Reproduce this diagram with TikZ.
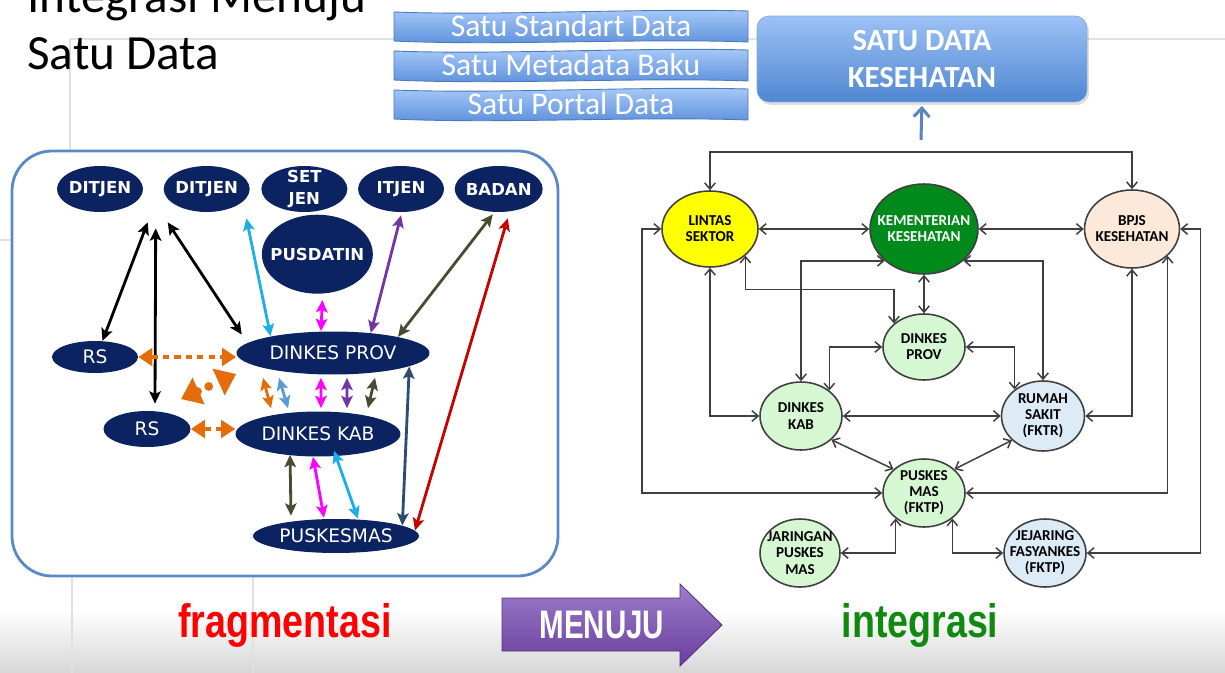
\documentclass[tikz,border=0pt]{standalone}
\usepackage{graphicx}
\usepackage{fontspec}
\setmainfont{Carlito}
\newfontfamily\dejavu{DejaVu Sans}
\newfontfamily\arialish{Liberation Sans}
\usetikzlibrary{positioning,shapes.geometric,arrows.meta,shadows}

\definecolor{navy}{HTML}{0C2362}
\definecolor{frameblue}{HTML}{5B88C6}
\definecolor{arrcyan}{HTML}{1AAFE6}
\definecolor{arrmag}{HTML}{FF00FF}
\definecolor{arrpurple}{HTML}{7335A5}
\definecolor{arrolive}{HTML}{4B4A33}
\definecolor{arrred}{HTML}{C80000}
\definecolor{arrslate}{HTML}{2F4B6E}
\definecolor{arrorange}{HTML}{E46C0A}
\definecolor{arrsteel}{HTML}{5B9BD5}
\definecolor{lintasyellow}{HTML}{FFFF00}
\definecolor{kemgreen}{HTML}{008A1C}
\definecolor{bpjspeach}{HTML}{FDE9D9}
\definecolor{palegreen}{HTML}{D5F7D2}
\definecolor{paleblue}{HTML}{DCEBF6}
\definecolor{linkgray}{HTML}{3F3F3F}
\definecolor{bannertop}{HTML}{A9CBF8}
\definecolor{bannerbot}{HTML}{5A8EDB}
\definecolor{boxtop}{HTML}{9DC1F5}
\definecolor{boxbot}{HTML}{4F87D1}
\definecolor{upblue}{HTML}{5A84BD}
\definecolor{menujutop}{HTML}{9C7DCB}
\definecolor{menujubot}{HTML}{6A3E9C}
\definecolor{fragred}{HTML}{FF0000}
\definecolor{integgreen}{HTML}{0F8A0F}

\begin{document}
\begin{tikzpicture}[x=0.02cm,y=-0.02cm]
      \tikzstyle{navy}=[ellipse, fill=navy, inner sep=-4pt, text=white, font=\dejavu\bfseries\fontsize{9.4}{12}\selectfont, minimum width=1.72cm, minimum height=0.92cm, align=center]
      \tikzstyle{navyflat}=[ellipse, fill=navy, inner sep=-4pt, text=white, font=\dejavu\fontsize{10.6}{12}\selectfont]
      \tikzstyle{twoway}=[<->, >={Stealth[length=7pt,width=6.5pt,inset=1.5pt]}, line width=1.6pt]
      \tikzstyle{unit}=[ellipse, draw=linkgray, line width=0.9pt, inner xsep=-8pt, inner ysep=0pt, align=center, font=\bfseries\fontsize{8.6}{9.2}\selectfont, minimum width=1.64cm, minimum height=1.36cm]
      \tikzstyle{link}=[<->, >={Straight Barb[length=3.5pt,width=6pt]}, line width=0.85pt, draw=linkgray]
      \tikzstyle{band}=[top color=bannertop, bottom color=bannerbot, draw=bannerbot!85!black, line width=0.5pt]
      \tikzstyle{bandtext}=[text=white, font=\fontsize{18}{20}\selectfont, inner sep=0pt]
      \tikzstyle{satubox}=[rectangle, rounded corners=0.24cm, minimum width=6.6cm, minimum height=1.72cm, top color=boxtop, bottom color=boxbot, draw=boxbot!70!white, text=white, align=center, font=\bfseries\fontsize{17.5}{21}\selectfont, drop shadow={opacity=0.25, shadow xshift=0.04cm, shadow yshift=-0.06cm}]
      \tikzstyle{dotarrow}=[arrorange, {Triangle[length=8pt,width=10pt]}-{Triangle[length=8pt,width=10pt]}]

      \useasboundingbox (0,0) rectangle (1225,673);
      \clip (0,0) rectangle (1225,673);
      \fill[white] (0,0) rectangle (1225,673);
      \shade[top color=white, bottom color=black!16] (0,610) rectangle (1225,673);
      \draw[black!12, line width=0.6pt] (70,39) -- (1225,39) (70,39) -- (70,151) (0,240) -- (12,240)
            (72,576) -- (72,673) (253,576) -- (253,673);

      % title
      \node[anchor=base west, inner sep=0pt, font=\fontsize{28}{32}\selectfont] (judulatas) at (27,12) {Integrasi Menuju};
      \node[anchor=base west, inner sep=0pt, font=\fontsize{28}{32}\selectfont] (judul) at (27,69) {Satu Data};

      % banners
      \foreach \t/\txt in {11/Satu Standart Data, 50/Satu Metadata Baku, 89/Satu Portal Data}{
        \path[band] (394,\t+1) .. controls (500,\t+5) and (640,\t-3) .. (748,\t) -- (748,\t+31)
              .. controls (640,\t+27) and (500,\t+35) .. (394,\t+30) -- cycle;
        \node[bandtext] (band\t) at (571,\t+15) {\txt};
      }

      \node[satubox] (satu) at (922,59) {SATU DATA\\KESEHATAN};
      \coordinate (naik) at (921,140);
      \draw[upblue, line width=1.7pt, -{Straight Barb[length=5pt,width=9pt]}, shorten >=2pt] (naik) -- (satu.south);

      % fragmentasi panel
      \draw[frameblue, line width=1.6pt, rounded corners=0.8cm, fill=white] (12,151) rectangle (558,576);

      \node[navy] (ditjena) at (100,189) {DITJEN};
      \node[navy] (ditjenb) [right=0.4cm of ditjena] {DITJEN};
      \node[navy] (setjen) [right=0.22cm of ditjenb] {SET\\JEN};
      \node[navy] (itjen) [right=0.2cm of setjen] {ITJEN};
      \node[navy, minimum width=1.76cm] (badan) [right=0.2cm of itjen] {BADAN};
      \node[navy, inner xsep=-14pt, minimum width=2.22cm, minimum height=1.58cm] (pusdatin) [below=0.04cm of setjen, xshift=0.26cm] {PUSDATIN};

      \node[navyflat, minimum width=1.72cm, minimum height=0.64cm] (rsa) at (95,357) {RS};
      \node[navyflat, minimum width=1.74cm, minimum height=0.72cm] (rsb) at (147,429) {RS};
      \node[navyflat, minimum width=3.86cm, minimum height=0.86cm] (dprov) at (333,353) {DINKES PROV};
      \node[navyflat, minimum width=3.3cm, minimum height=0.9cm] (dkab) at (318,434) {DINKES KAB};
      \node[navyflat, minimum width=3.32cm, minimum height=0.68cm] (pkesmas) at (336,536) {PUSKESMAS};

      \draw[twoway] ([xshift=-1.18cm,yshift=-0.2cm]ditjenb.south) -- (rsa.65);
      \draw[twoway] ([xshift=-1.02cm,yshift=-0.32cm]ditjenb.south) -- ([xshift=0.16cm,yshift=0.14cm]rsb.north);
      \draw[twoway] ([xshift=-0.78cm,yshift=-0.2cm]ditjenb.south) -- ([xshift=-0.3cm,yshift=0.1cm]dprov.170);
      \draw[twoway, arrcyan] ([xshift=-1.16cm,yshift=-0.12cm]setjen.south) -- (dprov.165);
      \draw[twoway, arrmag] ([xshift=0.1cm,yshift=-0.12cm]pusdatin.south) -- ([xshift=-0.24cm]dprov.north);
      \draw[twoway, arrpurple] ([yshift=-0.06cm]itjen.south) -- (dprov.28);
      \draw[twoway, arrolive] ([xshift=-0.12cm,yshift=-0.04cm]badan.south) -- (dprov.14);
      \draw[twoway, arrred] ([xshift=0.18cm,yshift=-0.12cm]badan.south) -- (pkesmas.4);
      \draw[twoway, arrslate] (dprov.-10) -- (pkesmas.9);

      \draw[twoway, arrorange] ([xshift=-1.4cm,yshift=-0.06cm]dprov.south) -- ([xshift=-0.94cm,yshift=0.06cm]dkab.north);
      \draw[twoway, arrsteel] ([xshift=-1.08cm,yshift=-0.06cm]dprov.south) -- ([xshift=-0.6cm,yshift=0.06cm]dkab.north);
      \draw[twoway, arrmag] ([xshift=-0.24cm,yshift=-0.06cm]dprov.south) -- ([xshift=0.06cm,yshift=0.06cm]dkab.north);
      \draw[twoway, arrpurple] ([xshift=0.28cm,yshift=-0.06cm]dprov.south) -- ([xshift=0.58cm,yshift=0.06cm]dkab.north);
      \draw[twoway, arrolive] ([xshift=0.84cm,yshift=-0.06cm]dprov.south) -- ([xshift=1.0cm,yshift=0.06cm]dkab.north);

      \draw[twoway, arrolive] ([xshift=-0.56cm,yshift=0.04cm]dkab.south) -- ([xshift=-0.9cm,yshift=0.06cm]pkesmas.north);
      \draw[twoway, arrmag] ([xshift=-0.1cm]dkab.south) -- ([xshift=-0.24cm,yshift=0.02cm]pkesmas.north);
      \draw[twoway, arrcyan] ([xshift=0.32cm,yshift=0.12cm]dkab.south) -- ([xshift=0.44cm]pkesmas.north);

      \draw[dotarrow, line width=2.2pt, dash pattern=on 3.5pt off 3pt] (rsa.east) -- (rsa.east -| dprov.west);
      \draw[dotarrow, line width=2.4pt, dash pattern=on 4pt off 3pt] (rsb.east) -- (rsb.east -| dkab.west);
      \draw[arrorange, line width=5pt, dash pattern=on 0pt off 7pt, line cap=round,
            {Triangle[length=11pt,width=16pt]}-{Triangle[length=11pt,width=16pt]}]
            ([xshift=0.06cm,yshift=0.34cm]rsb.north east) -- ([yshift=-0.42cm]dprov.west);

      % integrasi graph
      \node[unit, fill=lintasyellow, minimum width=1.92cm, minimum height=1.52cm] (lintas) at (710,229) {LINTAS\\SEKTOR};
      \node[unit, fill=kemgreen, text=white, minimum width=2.16cm, minimum height=1.8cm] (kemenkes) at (924,229) {KEMENTERIAN\\KESEHATAN};
      \node[unit, fill=bpjspeach, minimum width=1.9cm, minimum height=1.56cm] (bpjs) at (1132,229) {BPJS\\KESEHATAN};
      \node[unit, fill=palegreen, minimum height=1.32cm] (rprov) at (924,347) {DINKES\\PROV};
      \node[unit, fill=palegreen] (rkab) at (801,416) {DINKES\\KAB};
      \node[unit, fill=paleblue, minimum width=1.66cm, minimum height=1.4cm] (rsakit) at (1043,416) {RUMAH\\SAKIT\\(FKTR)};
      \node[unit, fill=palegreen] (rpkm) at (924,493) {PUSKES\\MAS\\(FKTP)};
      \node[unit, fill=palegreen, minimum width=1.6cm] (jaringan) at (800,553) {JARINGAN\\PUSKES\\MAS};
      \node[unit, fill=paleblue] (jejaring) at (1045,553) {JEJARING\\FASYANKES\\(FKTP)};

      \draw[link] (lintas.north) -- ++(0,-38) -| (bpjs.north);
      \draw[link] (rpkm.west) -- ++(-240,0) |- (lintas.west);
      \draw[link] (lintas.east) -- (kemenkes.west);
      \draw[link] (kemenkes.east) -- (bpjs.west);
      \draw[link] (lintas.south) |- (rkab.west);
      \draw[link] (lintas.-37) -- ++(0,34) -| (rprov.142);
      \draw[link] (kemenkes.219) -| (rkab.north);
      \draw[link] (kemenkes.south) -- (rprov.north);
      \draw[link] (kemenkes.-39) -| (rsakit.north);
      \draw[link] (rprov.west) -| (rkab.42);
      \draw[link] (rprov.east) -| (rsakit.137);
      \draw[link] (rkab.east) -- (rsakit.west);
      \draw[link] (bpjs.south) |- (rsakit.east);
      \draw[link] (bpjs.east) -- ++(20,0) |- (jejaring.east);
      \draw[link] (bpjs.-37) |- (rpkm.east);
      \draw[link] (rkab.-38) -- (rpkm.142);
      \draw[link] (rsakit.-142) -- (rpkm.38);
      \draw[link] (rpkm.222) |- (jaringan.east);
      \draw[link] (rpkm.-42) |- (jejaring.west);

      % bottom row
      \node[anchor=base, inner sep=0pt, text=fragred, font=\arialish\bfseries\fontsize{21.4}{24}\selectfont] (frag) at (285,637) {\scalebox{1}[1.25]{fragmentasi}};
      \path[top color=menujutop, bottom color=menujubot, draw=menujubot!80!black, line width=0.5pt]
            (502,598) -- (680,598) -- (680,584) -- (722,625) -- (680,666) -- (680,651) -- (502,651) -- cycle;
      \node[text=white, inner sep=0pt, font=\arialish\bfseries\fontsize{16.8}{20}\selectfont] (menuju) at (602,625) {\scalebox{1}[1.35]{MENUJU}};
      \node[anchor=base, inner sep=0pt, text=integgreen, font=\arialish\bfseries\fontsize{21.4}{24}\selectfont] (integ) at (920,637) {\scalebox{1}[1.25]{integrasi}};
\end{tikzpicture}
\end{document}
